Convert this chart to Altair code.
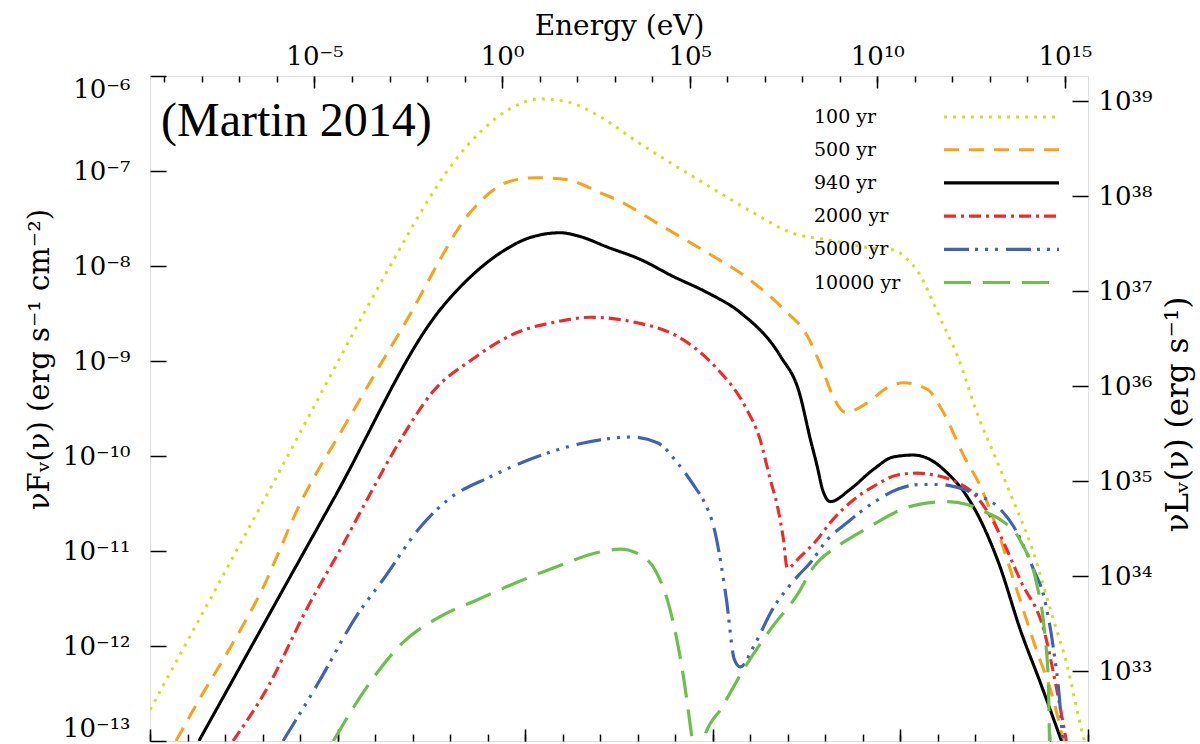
import altair as alt
import pandas as pd

# ---------------- data (log10 values) ----------------
AGES = ["100 yr", "500 yr", "940 yr", "2000 yr", "5000 yr", "10000 yr"]

# log10 photon energy (eV) and log10 nuF_nu (erg s^-1 cm^-2)
LOGE_100 = [-9.38, -6.34, -2.77, -2.16, -1.33, -0.53, 0.19, 1.02, 1.82, 2.62, 3.63, 4.64,
            5.68, 6.70, 7.71, 8.75, 9.82, 10.43, 10.80, 11.10, 11.34, 11.63, 12.14, 12.70,
            13.12, 13.52, 14.14, 14.67, 15.07, 15.36, 15.52]
LOGF_100 = [-12.67, -10.46, -7.85, -7.43, -6.93, -6.57, -6.35, -6.24, -6.28, -6.43, -6.70, -6.95,
            -7.20, -7.44, -7.65, -7.73, -7.81, -7.83, -7.93, -8.07, -8.25, -8.51, -8.95, -9.59,
            -9.99, -10.37, -10.99, -11.69, -12.22, -12.74, -13.00]

LOGE_500 = [-8.69, -8.08, -7.25, -6.45, -5.33, -4.21, -3.17, -2.48, -1.65, -1.14, -0.53, 0.19,
            0.91, 1.71, 2.62, 3.15, 4.22, 5.47, 6.48, 7.52, 8.14, 8.54, 8.83, 9.15, 9.74, 10.27,
            10.70, 11.34, 11.76, 12.32, 12.75, 13.15, 13.63, 14.24, 14.67, 14.96]
LOGF_500 = [-13.00, -12.57, -12.02, -11.45, -10.46, -9.69, -8.99, -8.53, -7.93, -7.59, -7.30, -7.11,
            -7.07, -7.09, -7.23, -7.32, -7.57, -7.86, -8.11, -8.46, -8.74, -9.09, -9.38, -9.54, -9.44, -9.28,
            -9.23, -9.30, -9.54, -10.01, -10.32, -10.72, -11.30, -12.04, -12.53, -13.00]

LOGE_940 = [-8.08, -4.50, -1.65, -0.72, 0.08, 0.75, 1.55, 2.08, 2.80, 3.68, 4.56, 5.47, 6.35,
            7.42, 7.92, 8.22, 8.40, 8.54, 8.75, 9.28, 9.90, 10.43, 10.96, 11.42, 11.87, 12.40,
            12.83, 13.23, 13.84, 14.35, 14.91]
LOGF_940 = [-13.00, -10.46, -8.46, -8.07, -7.83, -7.70, -7.65, -7.69, -7.80, -7.93, -8.11, -8.28, -8.49,
            -8.95, -9.33, -9.83, -10.11, -10.35, -10.48, -10.35, -10.14, -10.01, -9.99, -10.04, -10.18, -10.43,
            -10.74, -11.12, -11.86, -12.39, -13.00]

LOGE_2000 = [-7.17, -6.24, -5.22, -4.21, -3.60, -2.66, -1.86, -0.82, 0.40, 1.42, 2.35, 3.63, 4.67,
             5.68, 6.48, 6.88, 7.15, 7.34, 7.50, 7.60, 7.95, 8.40, 8.75, 9.28, 9.90, 10.54, 11.07,
             11.50, 12.14, 12.56, 13.02, 13.84, 14.46, 14.75, 15.04]
LOGF_2000 = [-13.00, -12.43, -11.62, -10.91, -10.46, -9.80, -9.33, -8.99, -8.70, -8.59, -8.54, -8.60, -8.74,
             -9.06, -9.48, -9.83, -10.25, -10.53, -10.88, -11.18, -11.06, -10.88, -10.70, -10.49, -10.32, -10.20, -10.18,
             -10.20, -10.28, -10.39, -10.64, -11.33, -11.86, -12.39, -13.00]

LOGE_5000 = [-5.84, -4.90, -3.89, -3.17, -2.16, -1.44, -0.32, 0.91, 2.62, 3.42, 4.14, 4.67, 5.18,
             5.36, 5.68, 5.98, 6.19, 6.35, 6.70, 7.20, 7.87, 8.22, 8.67, 9.20, 9.90, 10.54, 11.15,
             11.68, 12.14, 12.67, 13.20, 13.63, 14.14, 14.46, 14.70, 14.86, 14.94]
LOGF_5000 = [-13.00, -12.39, -11.69, -11.30, -10.74, -10.46, -10.22, -10.01, -9.83, -9.80, -9.86, -10.07, -10.35,
             -10.46, -10.81, -11.51, -12.14, -12.22, -12.01, -11.62, -11.27, -11.12, -10.88, -10.70, -10.49, -10.35, -10.30,
             -10.30, -10.33, -10.41, -10.53, -10.74, -11.17, -11.51, -12.04, -12.57, -13.00]

LOGE_10000 = [-4.50, -3.60, -2.66, -1.65, -0.64, 0.40, 1.42, 2.62, 3.15, 3.68, 4.08, 4.46, 4.86,
              5.07, 5.20, 5.36, 5.87, 6.48, 7.20, 7.87, 8.30, 8.94, 9.47, 9.90, 10.80, 11.42,
              11.87, 12.40, 12.94, 13.28, 13.84, 14.24, 14.46, 14.56, 14.59]
LOGF_10000 = [-13.00, -12.43, -11.97, -11.69, -11.51, -11.33, -11.17, -11.01, -10.98, -11.04, -11.20, -11.59, -12.39,
              -13.00, -13.40, -13.00, -12.64, -12.22, -11.80, -11.46, -11.17, -10.95, -10.82, -10.72, -10.54, -10.49,
              -10.48, -10.51, -10.60, -10.67, -10.91, -11.33, -11.86, -12.39, -13.00]

SERIES = {
    "100 yr": (LOGE_100, LOGF_100),
    "500 yr": (LOGE_500, LOGF_500),
    "940 yr": (LOGE_940, LOGF_940),
    "2000 yr": (LOGE_2000, LOGF_2000),
    "5000 yr": (LOGE_5000, LOGF_5000),
    "10000 yr": (LOGE_10000, LOGF_10000),
}

COLORS = ["#d4de1e", "#f7a21b", "#000000", "#ee2b2b", "#3f62b5", "#6cc04a"]
DASHES = [[3, 6], [15, 10], [1, 0], [12, 5, 3, 5], [25, 6, 3, 7, 3, 7, 3, 8], [27, 12]]
WIDTHS = [3, 3.2, 3, 3, 4.5, 3]

# axis constants
LOG_H_EV = -14.3834          # log10 Planck constant in eV s (bottom axis is frequency, Hz)
LOG_4PI_D2 = 45.267          # log10(4 pi d^2) linking nuF_nu to nuL_nu (right axis)
X_MIN, X_MAX = 5 + LOG_H_EV, 30 + LOG_H_EV
TOP_MAJOR = [-5, 0, 5, 10, 15]
TOP_MINOR = list(range(-9, 16))
BOT_MAJOR = [5, 10, 15, 20, 25, 30]
BOT_MINOR = list(range(5, 31))
LEFT_EXP = list(range(-13, -5))
RIGHT_EXP = list(range(33, 40))

rows = []
for age, (le, lf) in SERIES.items():
    for a, b in zip(le, lf):
        rows.append({"age": age, "E": 10 ** a, "F": 10 ** b})
df = pd.DataFrame(rows)

SUP = str.maketrans("0123456789-", "⁰¹²³⁴⁵⁶⁷⁸⁹⁻")


def pow_label(n):
    return "10" + str(n).translate(SUP)


def label_expr(exps, shift=0.0):
    k = f"round(log(datum.value)/LN10 + {shift})"
    parts = [f"({k} == {n}) ? '{pow_label(n)}'" for n in exps]
    return " : ".join(parts) + " : ''"


FONT = "DejaVu Serif"
x_scale = alt.Scale(type="log", domain=[10 ** X_MIN, 10 ** X_MAX], nice=False)
y_scale = alt.Scale(type="log", domain=[1e-13, 1e-6], nice=False)

common = dict(grid=False, domain=False, tickColor="black", tickWidth=1.5,
              labelFont=FONT, labelFontSize=26, labelColor="black",
              titleFont=FONT, titleFontSize=28, titleColor="black", titleFontWeight="normal")

ax_top_major = alt.Axis(orient="top", values=[10.0 ** n for n in TOP_MAJOR],
                        labelExpr=label_expr(TOP_MAJOR), tickSize=12, offset=-12,
                        labelPadding=7, title="Energy (eV)", titlePadding=3, **common)
ax_top_minor = alt.Axis(orient="top", values=[10.0 ** n for n in TOP_MINOR], labels=False,
                        tickSize=6, offset=-6, title=None, **common)
ax_bot_major = alt.Axis(orient="bottom", values=[10.0 ** (n + LOG_H_EV) for n in BOT_MAJOR],
                        labels=False, tickSize=12, offset=-12, title=None, **common)
ax_bot_minor = alt.Axis(orient="bottom", values=[10.0 ** (n + LOG_H_EV) for n in BOT_MINOR],
                        labels=False, tickSize=7, offset=-7, title=None, **common)
ax_left = alt.Axis(orient="left", values=[10.0 ** n for n in LEFT_EXP],
                   labelExpr=label_expr(LEFT_EXP), tickSize=16, offset=-16, labelPadding=20,
                   labelFlush=True, title="νFᵥ(ν)  (erg s⁻¹ cm⁻²)", titlePadding=8, titleY=283,
                   **dict(common, titleFontSize=29))
ax_right = alt.Axis(orient="right", values=[10.0 ** (n - LOG_4PI_D2) for n in RIGHT_EXP],
                    labelExpr=label_expr(RIGHT_EXP, LOG_4PI_D2), tickSize=16, offset=-16,
                    labelPadding=10, title="νLᵥ(ν)  (erg s⁻¹)", titleAngle=270,
                    titleBaseline="top", titlePadding=12, titleY=338,
                    **dict(common, titleFontSize=31))

# horizontal line sample: custom path scaled by sqrt(size)/2 -> 115 px long, 23 px row
leg = alt.Legend(orient="none", legendX=838, legendY=28, title=None, symbolType="M-5,0H5",
                 symbolSize=529, labelFont=FONT, labelFontSize=19, labelColor="black",
                 labelAlign="left", labelOffset={"expr": "-201"}, symbolFillColor="transparent",
                 rowPadding=9.2, padding=0)

base = alt.Chart(df)

lines = base.mark_line(clip=True, interpolate="monotone").encode(
    x=alt.X("E:Q", scale=x_scale, axis=ax_top_major),
    y=alt.Y("F:Q", scale=y_scale, axis=ax_left),
    color=alt.Color("age:N", sort=AGES, scale=alt.Scale(domain=AGES, range=COLORS), legend=leg),
    strokeDash=alt.StrokeDash("age:N", sort=AGES, scale=alt.Scale(domain=AGES, range=DASHES), legend=leg),
    strokeWidth=alt.StrokeWidth("age:N", sort=AGES, scale=alt.Scale(domain=AGES, range=WIDTHS), legend=leg),
    order=alt.Order("E:Q"),
)


def axis_layer(xa, ya):
    return base.mark_point(opacity=0).encode(
        x=alt.X("E:Q", scale=x_scale, axis=xa),
        y=alt.Y("F:Q", scale=y_scale, axis=ya),
    )


note = alt.Chart(pd.DataFrame({"t": ["(Martin 2014)"]})).mark_text(
    align="left", baseline="alphabetic", font="Liberation Serif", fontSize=48, color="black"
).encode(x=alt.value(11), y=alt.value(60), text="t:N")

chart = alt.layer(
    lines,
    axis_layer(ax_top_minor, ax_right),
    axis_layer(ax_bot_major, None),
    axis_layer(ax_bot_minor, None),
    note,
).resolve_axis(x="independent", y="independent").properties(
    width=938, height=665,
    autosize=alt.AutoSizeParams(type="none"),
    padding={"left": 150, "top": 76, "right": 112, "bottom": 3},
).configure_view(stroke="black", strokeWidth=2).configure(background="white")

chart.save("out.html", embed_options={"renderer": "svg", "actions": False})
